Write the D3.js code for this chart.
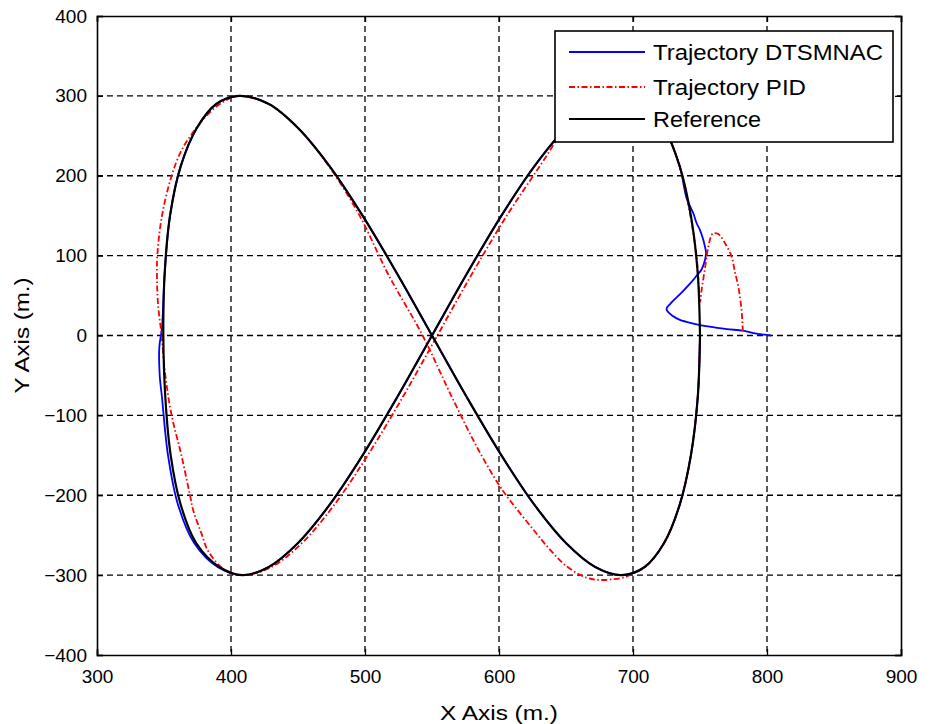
<!DOCTYPE html>
<html><head><meta charset="utf-8">
<script src="https://cdn.jsdelivr.net/npm/d3@7"></script>
<style>body{margin:0;background:#fff}svg{display:block}text{font-family:"Liberation Sans",Arial,sans-serif}</style>
</head><body><svg id="c" width="932" height="724"></svg>
<script>
// ---- data ----
const xTicks = [300,400,500,600,700,800,900];
const yTicks = [-400,-300,-200,-100,0,100,200,300,400];
const seriesNames = ["Trajectory DTSMNAC","Trajectory PID","Reference"];

const refX = [750,748.3,743.2,734.8,723.2,708.7,691.4,671.8,650,626.5,601.8,576.1,550,523.9,498.2,473.5,450,428.2,408.6,391.3,374,362.5,355,351,349.5,350.5,354.5,362.5,374.5,389,406,428.2,450,473.5,498.2,523.9,550,576.1,601.8,626.5,650,671.8,691.4,708.7,723.2,734.8,743.2,748.3,750];
const refY = [0,77.6,150,212.1,259.8,289.8,300,289.8,259.8,212.1,150,77.6,0,-77.6,-150,-212.1,-259.8,-289.8,-300,-289.8,-259.8,-212.1,-150,-77.6,0,77.6,150,212.1,259.8,289.8,300,289.8,259.8,212.1,150,77.6,0,-77.6,-150,-212.1,-259.8,-289.8,-300,-289.8,-259.8,-212.1,-150,-77.6,0];

const dtsX = [803,790,782,770,757,745,735,730,725,728,737,745,748,751,753.7,754.5,753.7,752.5,750,747.5,745,740,734.8,723.2,708.7,691.4,671.8,650,626.5,601.8,576.1,550,523.9,498.2,473.5,450,428.2,408.6,390,372.5,360.5,353,348.5,346.8,346.5,348.5,350.5,354.5,362.5,374.5,389,406,428.2,450,473.5,498.2,523.9,550,576.1,601.8,626.5,650,671.8,691.4,708.7,723.2,734.8,743.2,748.3,750];
const dtsY = [0,3,6,8,11,15,19.5,24,33,40,55,69.6,76,82,94.6,104,111,119.6,132,140.5,153,172,212.1,259.8,289.8,300,289.8,259.8,212.1,150,77.6,0,-77.6,-150,-212.1,-259.8,-289.8,-300,-289.8,-259.8,-212.1,-150,-77.6,-50,-15,10,77.6,150,212.1,259.8,289.8,300,289.8,259.8,212.1,150,77.6,0,-77.6,-150,-212.1,-259.8,-289.8,-300,-289.8,-259.8,-212.1,-150,-77.6,0];

const pidX = [782,781.5,781,778.6,776,773.6,768.7,763.7,760,758.7,756.2,753.7,751.2,750,748.8,747.5,745,742.5,734.8,723.2,708.7,691.4,671.8,650,630.5,605.8,580,554,528,502,477,453,430,409,395,383,378,372,369.4,363,355.7,351,348.2,345.5,344.8,345,348.5,355.7,362.5,369.4,380,392,406,428.2,450,473,496,517,543,565,584.6,600.7,608,625.6,638,650.5,665,675,686,695,700,709,723.2,734.8,743.2,748.3,750];
const pidY = [5,20,32,61,80,98.7,115.5,127,128,126,111,84,57,42,69.6,98.8,128,153,212.1,259.8,289.8,300,289.8,259.8,212.1,150,77.6,0,-77.6,-150,-212.1,-259.8,-290,-300,-293,-270,-248,-220,-200,-150,-100,-50,0,40,70,100,150,200,230,249,272,290,300,289.8,259.8,212.1,150,77.6,0,-77.6,-143,-189,-206,-243,-268,-289,-303,-306,-305,-302,-298,-290,-259.8,-212.1,-150,-77.6,0];

// ---- layout ----
const L=97,R=901,T=16,B=655;
const svg=d3.select("#c");
const x=d3.scaleLinear().domain([300,900]).range([L,R]);
const y=d3.scaleLinear().domain([-400,400]).range([B,T]);
const toPts=(xs,ys)=>xs.map((v,i)=>[v,ys[i]]);
const line=d3.line().x(d=>x(d[0])).y(d=>y(d[1])).curve(d3.curveCatmullRom.alpha(0.5));

// grid
const g=svg.append("g");
g.selectAll(".gx").data(xTicks.filter(v=>v>300&&v<900)).join("line")
 .attr("x1",d=>x(d)).attr("x2",d=>x(d)).attr("y1",T).attr("y2",B)
 .attr("stroke","#000").attr("stroke-width",1.3).attr("stroke-dasharray","6,4");
g.selectAll(".gy").data(yTicks.filter(v=>v>-400&&v<400)).join("line")
 .attr("y1",d=>y(d)).attr("y2",d=>y(d)).attr("x1",L).attr("x2",R)
 .attr("stroke","#000").attr("stroke-width",1.3).attr("stroke-dasharray","6,4");

// series
svg.append("path").datum(toPts(dtsX,dtsY)).attr("d",line).attr("fill","none")
 .attr("stroke","#0000ff").attr("stroke-width",1.8);
svg.append("path").datum(toPts(pidX,pidY)).attr("d",line).attr("fill","none")
 .attr("stroke","#ff0000").attr("stroke-width",1.8).attr("stroke-dasharray","6,2.5,1.5,2.5");
svg.append("path").datum(toPts(refX,refY)).attr("d",line).attr("fill","none")
 .attr("stroke","#000").attr("stroke-width",2.2);

// axes
const fs=19;
svg.append("g").attr("transform",`translate(0,${B})`)
 .call(d3.axisBottom(x).tickValues(xTicks).tickSize(-6).tickPadding(15).tickFormat(d3.format("d")));
svg.append("g").attr("transform",`translate(${L},0)`)
 .call(d3.axisLeft(y).tickValues(yTicks).tickSize(-6).tickPadding(10).tickFormat(d3.format("d")));
svg.append("g").attr("transform",`translate(0,${T})`)
 .call(d3.axisTop(x).tickValues(xTicks).tickSize(-6).tickFormat(""));
svg.append("g").attr("transform",`translate(${R},0)`)
 .call(d3.axisRight(y).tickValues(yTicks).tickSize(-6).tickFormat(""));
svg.selectAll(".domain").attr("stroke","#000").attr("stroke-width",1.6);
svg.selectAll(".tick line").attr("stroke","#000").attr("stroke-width",1.3);
svg.selectAll(".tick text").attr("font-size",fs).attr("fill","#000").style("font-family","'Liberation Sans',Arial,sans-serif");

// axis titles
svg.append("text").attr("x",499).attr("y",720).attr("text-anchor","middle")
 .attr("font-size",21).attr("textLength",118).attr("lengthAdjust","spacingAndGlyphs").text("X Axis (m.)");
svg.append("text").attr("transform",`translate(29,${(T+B)/2}) rotate(-90)`).attr("text-anchor","middle")
 .attr("font-size",21).attr("textLength",116).attr("lengthAdjust","spacingAndGlyphs").text("Y Axis (m.)");

// legend
const lg=svg.append("g");
lg.append("rect").attr("x",555).attr("y",31).attr("width",338).attr("height",111)
 .attr("fill","#fff").attr("stroke","#000").attr("stroke-width",1.6);
const lstyles=[{c:"#0000ff",d:null,w:1.8},{c:"#ff0000",d:"6,2.5,1.5,2.5",w:1.8},{c:"#000",d:null,w:1.8}];
const ly=[52,87,119];
const lw=[230,153,108];
seriesNames.forEach((n,i)=>{
  lg.append("line").attr("x1",569).attr("x2",645).attr("y1",ly[i]).attr("y2",ly[i])
    .attr("stroke",lstyles[i].c).attr("stroke-width",lstyles[i].w).attr("stroke-dasharray",lstyles[i].d);
  lg.append("text").attr("x",653).attr("y",ly[i]+8).attr("font-size",22)
    .attr("textLength",lw[i]).attr("lengthAdjust","spacingAndGlyphs").text(n);
});
</script></body></html>
